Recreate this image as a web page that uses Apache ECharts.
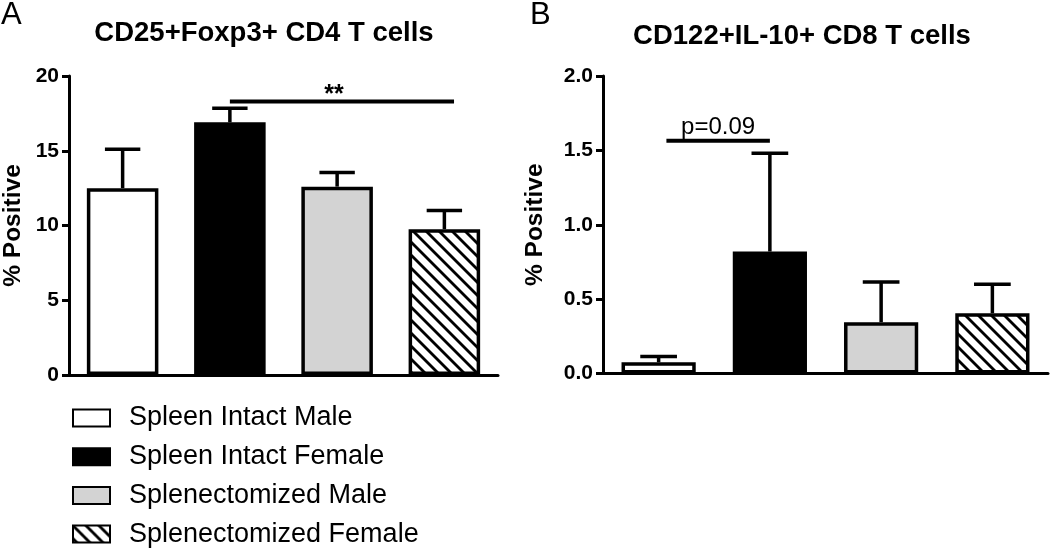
<!DOCTYPE html>
<html><head><meta charset="utf-8">
<script src="https://cdn.jsdelivr.net/npm/echarts@6/dist/echarts.min.js"></script>
<style>html,body{margin:0;padding:0;background:#fff}#c{width:1050px;height:552px}</style>
</head><body><div id="c"></div>
<script>
// ---- data ----
const categories = ['Spleen Intact Male', 'Spleen Intact Female', 'Splenectomized Male', 'Splenectomized Female'];
const valuesA = [12.5, 16.9, 12.6, 9.75];
const upperA  = [15.1, 17.85, 13.55, 11.0];
const valuesB = [0.075, 0.82, 0.345, 0.405];
const upperB  = [0.115, 1.48, 0.615, 0.60];
const ticksA = [0, 5, 10, 15, 20];
const ticksB = [0, 0.5, 1.0, 1.5, 2.0];
const titleA = 'CD25+Foxp3+ CD4 T cells';
const titleB = 'CD122+IL-10+ CD8 T cells';
const yName = '% Positive';
const sigLineA = [1, 3.09, 18.3];   // from category, to category, y value
const sigLineB = [0.07, 1.0, 1.565];
const sigLabelA = '**';
const sigLabelB = 'p=0.09';

// ---- styles ----
const FONT = '"Liberation Sans", Arial, Helvetica, sans-serif';
function hatch() {
  const s = 13, c = document.createElement('canvas');
  c.width = s; c.height = s;
  const g = c.getContext('2d');
  g.fillStyle = '#fff'; g.fillRect(0, 0, s, s);
  g.strokeStyle = '#000'; g.lineWidth = 2.8;
  for (let k = -1; k <= 1; k++) {
    g.beginPath(); g.moveTo(k * s - 2, -2); g.lineTo(k * s + s + 2, s + 2); g.stroke();
  }
  return { image: c, repeat: 'repeat' };
}
const fills = ['#ffffff', '#000000', '#d3d3d3', hatch()];

function barSeries(grid, values) {
  return categories.map((name, i) => ({
    type: 'bar', name, xAxisIndex: grid, yAxisIndex: grid,
    data: values.map((v, j) => (j === i ? v : '-')),
    barWidth: '66.7%', barGap: '-100%',
    itemStyle: { color: fills[i], borderColor: '#000', borderWidth: 3.5 },
    z: 3, silent: true
  }));
}
function errSeries(grid, values, upper) {
  return {
    type: 'custom', xAxisIndex: grid, yAxisIndex: grid, z: 2, silent: true,
    encode: { x: 0, y: [1, 2] },
    data: values.map((v, i) => [i, v, upper[i]]),
    renderItem(params, api) {
      const i = api.value(0);
      const b = api.coord([i, api.value(1)]);
      const t = api.coord([i, api.value(2)]);
      const half = api.size([1, 0])[0] * 0.165;
      const st = { stroke: '#000', lineWidth: 3.5 };
      return { type: 'group', children: [
        { type: 'line', shape: { x1: b[0], y1: b[1], x2: t[0], y2: t[1] }, style: st },
        { type: 'line', shape: { x1: t[0] - half, y1: t[1], x2: t[0] + half, y2: t[1] }, style: st }
      ]};
    }
  };
}
function sigSeries(grid, line, label, font, dx, dy) {
  return {
    type: 'custom', xAxisIndex: grid, yAxisIndex: grid, z: 4, silent: true,
    encode: { x: 0, y: 2 },
    data: [line],
    renderItem(params, api) {
      const band = api.size([1, 0])[0];
      const y = api.value(2);
      const fx = v => api.coord([Math.floor(v), y])[0] + (v - Math.floor(v)) * band;
      const x1 = fx(api.value(0)), x2 = fx(api.value(1));
      const py = api.coord([0, y])[1];
      return { type: 'group', children: [
        { type: 'line', shape: { x1, y1: py, x2, y2: py }, style: { stroke: '#000', lineWidth: 4 } },
        { type: 'text', x: (x1 + x2) / 2 + dx, y: py + dy,
          style: { text: label, font, fill: '#000', align: 'center', verticalAlign: 'bottom' } }
      ]};
    }
  };
}
function yAxis(grid, ticks, gap, fmt) {
  return {
    type: 'value', gridIndex: grid, min: ticks[0], max: ticks[ticks.length - 1],
    interval: ticks[1] - ticks[0],
    name: yName, nameLocation: 'middle', nameGap: gap, nameRotate: 90,
    nameTextStyle: { fontFamily: FONT, fontWeight: 'bold', fontSize: 24.5, color: '#000' },
    axisLine: { show: true, lineStyle: { color: '#000', width: 3 } },
    axisTick: { show: true, length: 7, lineStyle: { color: '#000', width: 3 } },
    axisLabel: { margin: 10, fontFamily: FONT, fontWeight: 'bold', fontSize: 21, color: '#000', formatter: fmt },
    splitLine: { show: false }
  };
}
function xAxis(grid) {
  return {
    type: 'category', gridIndex: grid, data: categories,
    axisLine: { lineStyle: { color: '#000', width: 3 } },
    axisTick: { alignWithLabel: true, length: 10, lineStyle: { color: '#000', width: 3 } },
    axisLabel: { show: false }
  };
}

const chart = echarts.init(document.getElementById('c'), null, { renderer: 'canvas' });
chart.setOption({
  animation: false,
  backgroundColor: '#fff',
  grid: [
    { left: 65, top: 76, width: 433, height: 299 },
    { left: 603, top: 76, width: 445, height: 297.5 }
  ],
  xAxis: [xAxis(0), xAxis(1)],
  yAxis: [
    yAxis(0, ticksA, 43, v => String(v)),
    yAxis(1, ticksB, 55, v => v.toFixed(1))
  ],
  legend: {
    data: categories, orient: 'vertical', left: 72, top: 403, padding: 0,
    itemWidth: 37, itemHeight: 17, itemGap: 8.7, icon: 'rect',
    textStyle: { fontFamily: FONT, fontSize: 27, color: '#000', lineHeight: 30, padding: [0, 0, 0, 14] },
    selectedMode: false
  },
  graphic: [
    { type: 'text', left: 1, top: 0, style: { text: 'A', font: '31px ' + FONT, fill: '#000' } },
    { type: 'text', left: 530, top: 0, style: { text: 'B', font: '31px ' + FONT, fill: '#000' } },
    { type: 'text', x: 264, y: 33, style: { text: titleA, font: 'bold 27.5px ' + FONT, fill: '#000', align: 'center', verticalAlign: 'middle' } },
    { type: 'text', x: 802, y: 36, style: { text: titleB, font: 'bold 27.5px ' + FONT, fill: '#000', align: 'center', verticalAlign: 'middle' } }
  ],
  series: [
    ...barSeries(0, valuesA),
    errSeries(0, valuesA, upperA),
    sigSeries(0, sigLineA, sigLabelA, 'bold 25px ' + FONT, -8, 6),
    ...barSeries(1, valuesB),
    errSeries(1, valuesB, upperB),
    sigSeries(1, sigLineB, sigLabelB, '24px ' + FONT, 0, -1)
  ]
});
</script>
</body></html>
